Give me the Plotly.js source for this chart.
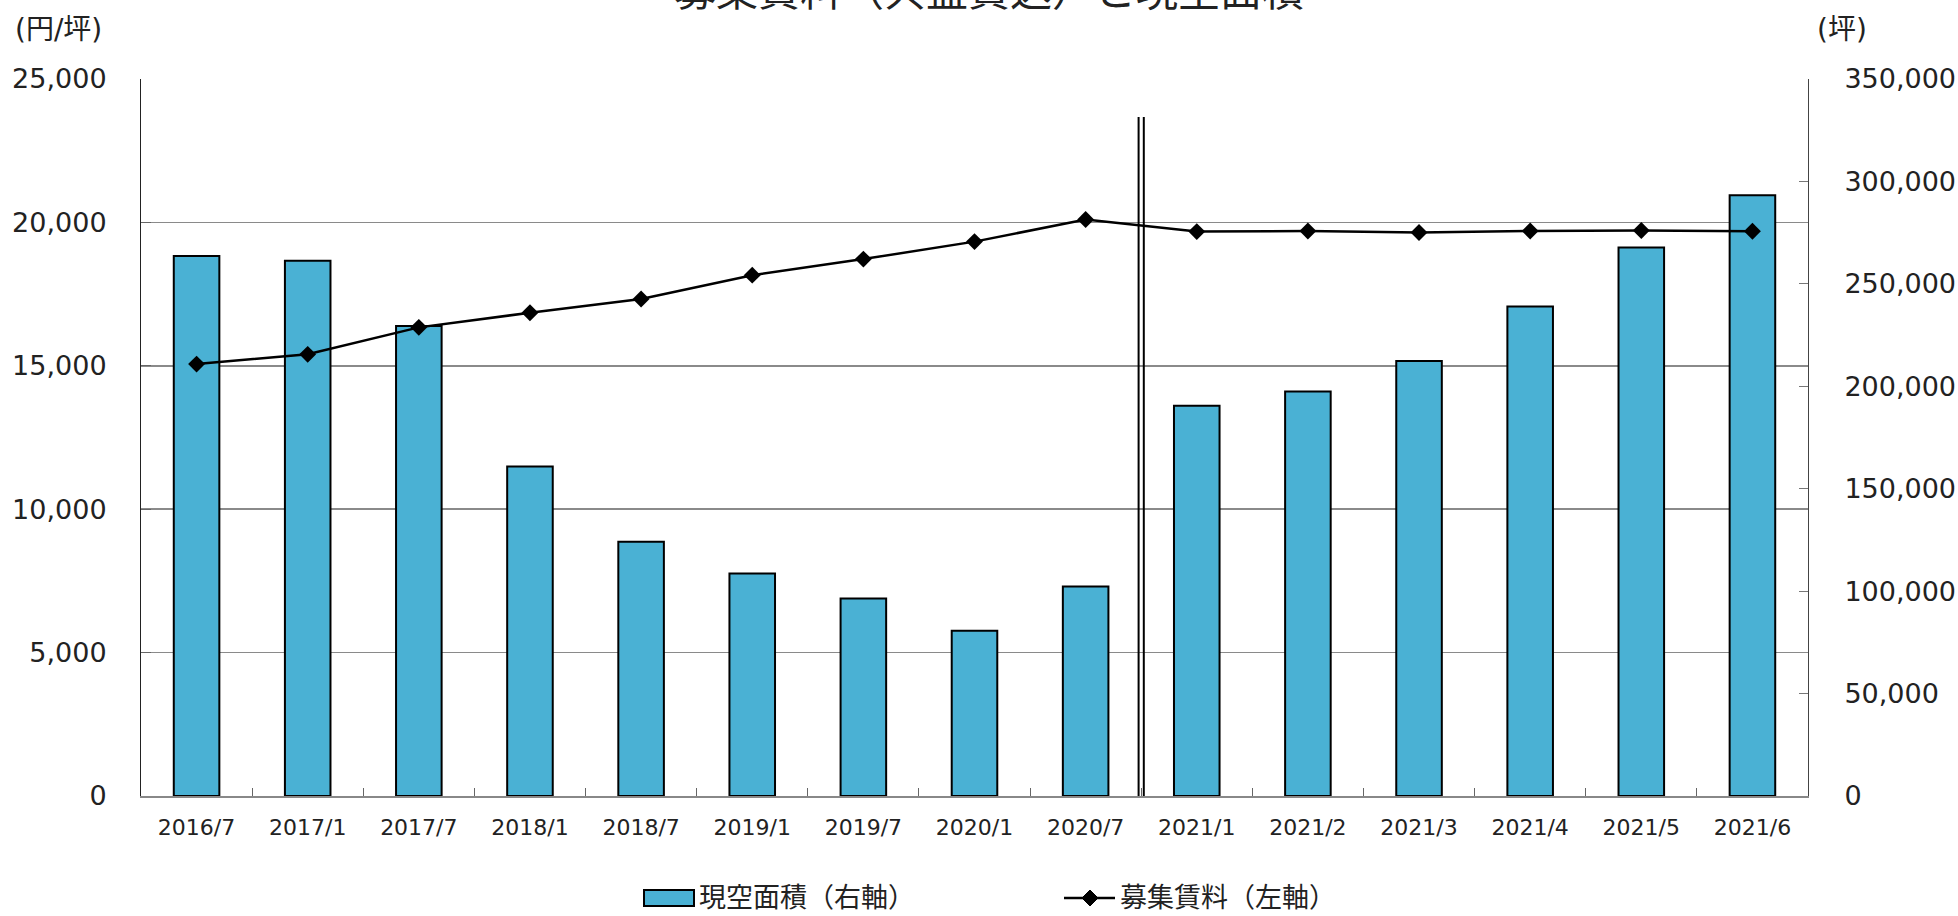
<!DOCTYPE html>
<html>
<head>
<meta charset="utf-8">
<script src="https://cdn.plot.ly/plotly-3.0.1.min.js"></script>
<style>
html,body{margin:0;padding:0;background:#fff;}
#chart{width:1958px;height:916px;}
</style>
</head>
<body>
<div id="chart"></div>
<script>
// ---- data ----
const categories = ["2016/7","2017/1","2017/7","2018/1","2018/7","2019/1","2019/7","2020/1","2020/7","2021/1","2021/2","2021/3","2021/4","2021/5","2021/6"];
const vacantArea = [263600, 261300, 229400, 160900, 124100, 108600, 96400, 80700, 102300, 190500, 197500, 212400, 238900, 267800, 293300];
const askingRent = [15060, 15400, 16340, 16850, 17330, 18160, 18720, 19330, 20100, 19680, 19700, 19650, 19700, 19720, 19690];
const barName = "現空面積（右軸）";
const lineName = "募集賃料（左軸）";
const chartTitle = "募集賃料（共益費込）と現空面積";
const leftUnit = "(円/坪)";
const rightUnit = "(坪)";
const leftTicks = [0, 5000, 10000, 15000, 20000, 25000];
const rightTicks = [0, 50000, 100000, 150000, 200000, 250000, 300000, 350000];

const numFont = "DejaVu Sans, Verdana, sans-serif";
const jpFont = "Noto Sans CJK JP, sans-serif";
const barColor = "#4AB1D4";

const traces = [
  {
    type: "bar",
    x: categories,
    y: vacantArea,
    name: barName,
    yaxis: "y",
    marker: {color: barColor, line: {color: "#000", width: 2}},
    showlegend: false
  },
  {
    type: "scatter",
    mode: "lines+markers",
    x: categories,
    y: askingRent,
    name: lineName,
    yaxis: "y2",
    line: {color: "#000", width: 2.5},
    marker: {symbol: "diamond", size: 13, color: "#000"},
    showlegend: false
  }
];

const W = 1958, H = 916;
const L = 141, R = 1808, T = 79, B = 796;
const px = X => (X - L) / (R - L);
const py = Y => (B - Y) / (B - T);

const layout = {
  width: W, height: H,
  margin: {l: L, r: W - R, t: T, b: H - B, pad: 0},
  paper_bgcolor: "#fff",
  plot_bgcolor: "#fff",
  bargap: 0.59,
  showlegend: false,
  xaxis: {
    type: "category",
    range: [-0.5, categories.length - 0.5],
    autorange: false,
    tickson: "boundaries",
    ticks: "inside",
    ticklen: 8,
    tickwidth: 1,
    tickcolor: "#666",
    showline: true,
    linecolor: "#888",
    linewidth: 1.5,
    showgrid: false,
    tickfont: {family: numFont, size: 22, color: "#222"},
    ticklabelstandoff: 11
  },
  yaxis: {
    side: "right",
    range: [0, 350000],
    autorange: false,
    tickvals: rightTicks,
    tickformat: ",d",
    ticks: "inside",
    ticklen: 9,
    tickcolor: "#777",
    showline: true,
    linecolor: "#444",
    linewidth: 1,
    showgrid: false,
    zeroline: false,
    tickfont: {family: numFont, size: 27, color: "#222"},
    ticklabelstandoff: 30
  },
  yaxis2: {
    overlaying: "y",
    side: "left",
    range: [0, 25000],
    autorange: false,
    tickvals: leftTicks,
    tickformat: ",d",
    ticks: "inside",
    ticklen: 10,
    tickcolor: "#666",
    showline: true,
    linecolor: "#222",
    linewidth: 1,
    showgrid: true,
    gridcolor: "#8a8a8a",
    gridwidth: 1.5,
    zeroline: false,
    tickfont: {family: numFont, size: 27, color: "#222"},
    ticklabelstandoff: 28
  },
  shapes: [
    // double break line between 2020/7 and 2021/1
    {type: "line", xref: "x", yref: "paper", xsizemode: "pixel", xanchor: 8.5, x0: -2.6, x1: -2.6, y0: 0, y1: py(117), line: {color: "#000", width: 2}},
    {type: "line", xref: "x", yref: "paper", xsizemode: "pixel", xanchor: 8.5, x0: 2.6, x1: 2.6, y0: 0, y1: py(117), line: {color: "#000", width: 2}},
    // legend: bar swatch
    {type: "rect", xref: "paper", yref: "paper", x0: px(644), x1: px(694), y0: py(906), y1: py(890), fillcolor: barColor, line: {color: "#000", width: 2}},
    // legend: line swatch
    {type: "line", xref: "paper", yref: "paper", x0: px(1064), x1: px(1115), y0: py(898), y1: py(898), line: {color: "#000", width: 2.5}},
    {type: "path", xref: "paper", yref: "paper", xsizemode: "pixel", ysizemode: "pixel", xanchor: px(1090), yanchor: py(898), path: "M -8 0 L 0 8 L 8 0 L 0 -8 Z", fillcolor: "#000", line: {color: "#000", width: 1}}
  ],
  annotations: [
    {text: chartTitle, xref: "paper", yref: "paper", x: px(989), y: py(-12), xanchor: "center", yanchor: "middle", showarrow: false, font: {family: jpFont, size: 42, color: "#222"}},
    {text: leftUnit, xref: "paper", yref: "paper", x: px(13), y: py(30), xanchor: "left", yanchor: "middle", showarrow: false, font: {family: "DejaVu Sans, Noto Sans CJK JP", size: 28, color: "#222"}},
    {text: rightUnit, xref: "paper", yref: "paper", x: px(1815), y: py(30), xanchor: "left", yanchor: "middle", showarrow: false, font: {family: "DejaVu Sans, Noto Sans CJK JP", size: 28, color: "#222"}},
    {text: barName, xref: "paper", yref: "paper", x: px(697), y: py(895), xanchor: "left", yanchor: "middle", showarrow: false, font: {family: jpFont, size: 27, color: "#222"}},
    {text: lineName, xref: "paper", yref: "paper", x: px(1118), y: py(895), xanchor: "left", yanchor: "middle", showarrow: false, font: {family: jpFont, size: 27, color: "#222"}}
  ]
};

Plotly.newPlot("chart", traces, layout, {displayModeBar: false, staticPlot: true});
</script>
</body>
</html>
